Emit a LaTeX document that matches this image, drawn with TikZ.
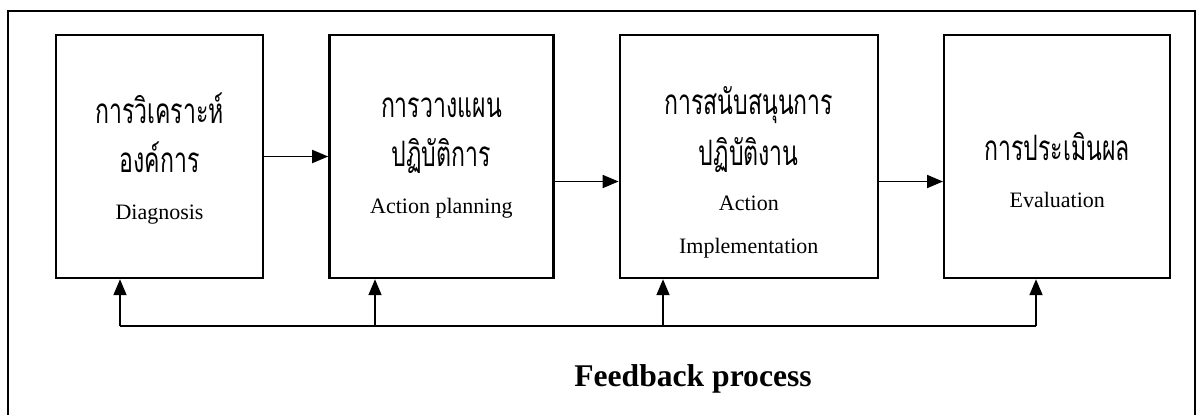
\documentclass[tikz,border=0pt]{standalone}
\usepackage{fontspec}
\setmainfont{Liberation Serif}
\newfontfamily\thaifont[Script=Thai,FakeStretch=0.66]{Loma}
\usetikzlibrary{positioning}
\usetikzlibrary{arrows.meta}
\newcommand{\thline}[1]{{\thaifont\fontsize{17.5}{24.5}\selectfont #1}}
\tikzset{
    every picture/.style={>={Triangle[length=8pt,width=6.5pt]},auto,node distance=32pt},
    box/.style={draw,line width=1.2pt,minimum height=121.5pt,inner sep=0pt},
    txt/.style={align=center,font=\fontsize{11}{24.5}\selectfont},
    link/.style={->,line width=0.9pt},
}
\begin{document}
\begin{tikzpicture}[x=0.5pt,y=-0.5pt]
\useasboundingbox (0,0) rectangle (1197,414);
\draw[line width=1pt] (8,420) -- (8,11) -- (1195,11) -- (1195,420);

\node[box,minimum width=103.5pt] (b1) at (159.5,156.5) {};
\node[box,minimum width=112pt,right=of b1] (b2) {};
\node[box,minimum width=129pt,right=of b2] (b3) {};
\node[box,minimum width=113pt,right=of b3] (b4) {};

\node[txt,yshift=-1pt] (t1) at (b1) {\thline{การวิเคราะห์}\\ \thline{องค์การ}\\[-1pt] Diagnosis};
\node[txt,yshift=-1pt] (t2) at (b2) {\thline{การวางแผน}\\ \thline{ปฏิบัติการ}\\[-1pt] Action planning};
\node[txt,yshift=-8pt] (t3) at (b3) {\thline{การสนับสนุนการ}\\[1pt] \thline{ปฏิบัติงาน}\\[-2pt] Action\\[-3pt] Implementation};
\node[txt,yshift=-7pt] (t4) at (b4) {\thline{การประเมินผล}\\[-1pt] Evaluation};

\path
(b1) edge[link] (b2)
([yshift=-12.5pt]b2.east) edge[link] ([yshift=-12.5pt]b3.west)
([yshift=-12.5pt]b3.east) edge[link] ([yshift=-12.5pt]b4.west)
;

% feedback loop
\coordinate (f1) at (120,326);
\coordinate (f2) at (375,326);
\coordinate (f3) at (663,326);
\coordinate (f4) at (1036,326);
\draw[line width=0.9pt] (f1) -- (f4);
\draw[link] (f1) -- (f1 |- b1.south);
\draw[link] (f2) -- (f2 |- b2.south);
\draw[link] (f3) -- (f3 |- b3.south);
\draw[link] (f4) -- (f4 |- b4.south);

\node[font=\bfseries\fontsize{15.8}{18}\selectfont,anchor=base] (fb) at (693,386) {Feedback process};

\end{tikzpicture}
\end{document}
